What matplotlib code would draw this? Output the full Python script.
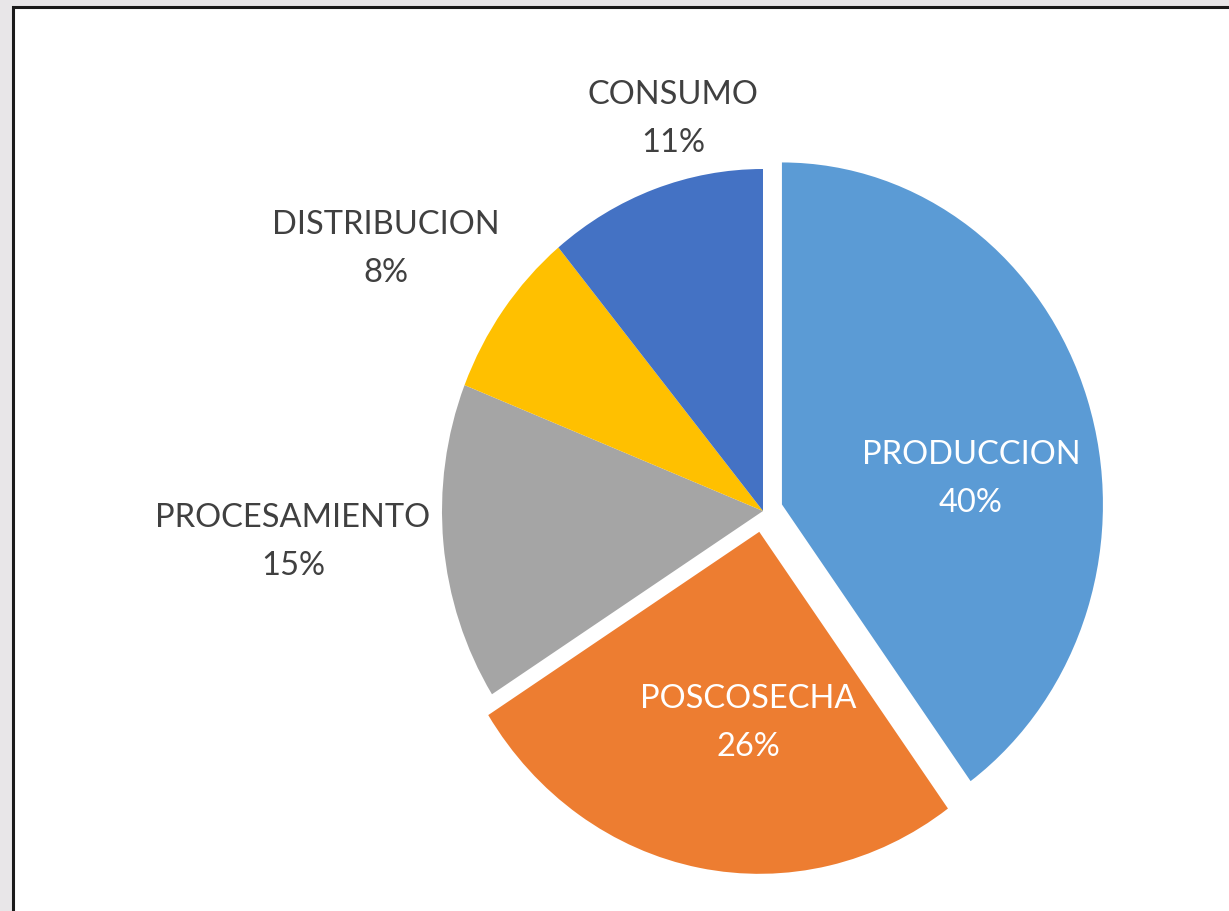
import matplotlib.pyplot as plt
from matplotlib.patches import Rectangle

# datos
etapas = ["PRODUCCION", "POSCOSECHA", "PROCESAMIENTO", "DISTRIBUCION", "CONSUMO"]
porcentajes = [40, 26, 15, 8, 11]
colores = ["#5B9BD5", "#ED7D31", "#A5A5A5", "#FFC000", "#4472C4"]
separar = [0.062, 0.062, 0, 0, 0]

W, H = 1229, 911
fig = plt.figure(figsize=(W / 100, H / 100), dpi=100)
fig.patch.set_facecolor("#e8e6e8")

# marco blanco con borde negro (se corta a la derecha y abajo)
fig.patches.append(Rectangle((13 / W, -0.1), 1, 1.1 - 7 / H, transform=fig.transFigure,
                             facecolor="white", edgecolor="#1a1a1a", linewidth=2.2,
                             zorder=-5))

# centro del pastel y radios en pixeles (la imagen esta un poco estirada en vertical)
cx, cy = 763, 511
rx, ry = 321, 342
ax = fig.add_axes([(cx - rx) / W, (H - cy - ry) / H, 2 * rx / W, 2 * ry / H])
ax.set_zorder(2)

wedges, _ = ax.pie(porcentajes, colors=colores, startangle=90, counterclock=False,
                   explode=separar, radius=1, wedgeprops=dict(linewidth=0))
for w in wedges:
    w.set_clip_on(False)
ax.set_aspect("auto")
ax.set_xlim(-1, 1)
ax.set_ylim(-1, 1)
ax.axis("off")


def px(x, y):
    # pixel de la imagen -> coordenadas del eje
    return (x - cx) / rx, (cy - y) / ry


pos_etiquetas = [(971, 479), (748, 723), (293, 542), (386, 249), (673, 119)]
dentro = [True, True, False, False, False]
for nombre, p, (x, y), d in zip(etapas, porcentajes, pos_etiquetas, dentro):
    tx, ty = px(x, y)
    ax.text(tx, ty, f"{nombre}\n{p}%", ha="center", va="center",
            fontsize=23.5, family="Lato", linespacing=1.76,
            color="white" if d else "#404040", clip_on=False)

fig.savefig("out.png", dpi=100, facecolor=fig.get_facecolor())
